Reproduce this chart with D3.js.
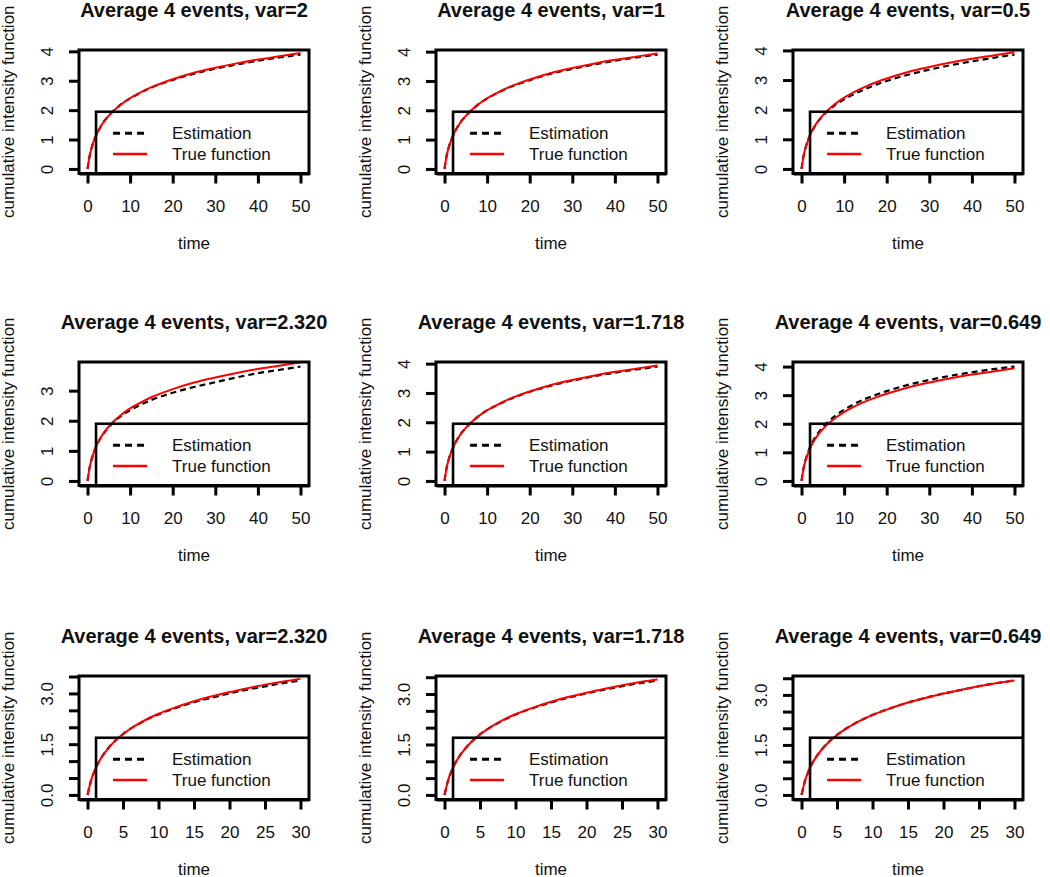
<!DOCTYPE html>
<html><head><meta charset="utf-8">
<script src="https://cdn.jsdelivr.net/npm/d3@7"></script>
<style>body{margin:0;background:#fff}svg{display:block}</style>
</head><body><svg id="c" width="1050" height="877"></svg>
<script>
const titles = [
  "Average 4 events, var=2", "Average 4 events, var=1", "Average 4 events, var=0.5",
  "Average 4 events, var=2.320", "Average 4 events, var=1.718", "Average 4 events, var=0.649",
  "Average 4 events, var=2.320", "Average 4 events, var=1.718", "Average 4 events, var=0.649"
];
const xLabel = "time";
const yLabel = "cumulative intensity function";
const legendLabels = ["Estimation", "True function"];

const timesLong  = [0,0.5,1,1.5,2,3,4,5,6,8,10,12,15,18,20,25,30,35,40,45,50];
const timesShort = [0,0.5,1,1.5,2,3,4,5,6,8,10,12,15,18,20,22,25,28,30];

const trueLong  = [0,0.45,0.74,0.96,1.14,1.42,1.64,1.81,1.96,2.21,2.41,2.57,2.78,2.95,3.05,3.27,3.44,3.59,3.72,3.83,3.94];
const trueShort = [0,0.43,0.72,0.94,1.12,1.40,1.62,1.80,1.95,2.20,2.40,2.56,2.77,2.94,3.04,3.13,3.26,3.37,3.43];

const est1 = [0,0.44,0.73,0.96,1.14,1.42,1.64,1.81,1.96,2.21,2.40,2.56,2.77,2.93,3.03,3.24,3.41,3.55,3.68,3.79,3.89];
const est2 = [0,0.45,0.74,0.96,1.14,1.42,1.64,1.81,1.96,2.21,2.40,2.56,2.77,2.93,3.03,3.25,3.41,3.56,3.69,3.80,3.90];
const est3 = [0,0.45,0.74,0.96,1.14,1.41,1.63,1.79,1.94,2.17,2.35,2.50,2.70,2.87,2.97,3.18,3.35,3.50,3.63,3.75,3.86];
const est4 = [0,0.45,0.74,0.96,1.14,1.41,1.62,1.79,1.94,2.17,2.35,2.50,2.69,2.84,2.93,3.12,3.28,3.44,3.58,3.69,3.80];
const est5 = [0,0.45,0.74,0.96,1.14,1.42,1.64,1.81,1.96,2.21,2.41,2.56,2.77,2.94,3.04,3.25,3.42,3.57,3.69,3.80,3.90];
const est6 = [0,0.46,0.76,0.99,1.18,1.47,1.70,1.88,2.03,2.29,2.49,2.66,2.87,3.04,3.14,3.36,3.53,3.68,3.80,3.91,4.00];
const est7 = [0,0.43,0.72,0.94,1.12,1.40,1.62,1.80,1.95,2.19,2.38,2.54,2.74,2.90,3.00,3.09,3.21,3.32,3.38];
const est8 = [0,0.43,0.72,0.94,1.12,1.40,1.62,1.80,1.95,2.19,2.39,2.55,2.75,2.92,3.02,3.11,3.23,3.34,3.40];
const est9 = [0,0.43,0.72,0.94,1.12,1.40,1.62,1.80,1.95,2.20,2.40,2.56,2.77,2.94,3.04,3.13,3.26,3.37,3.43];

const xTicksLong  = [0,10,20,30,40,50];
const xTicksShort = [0,5,10,15,20,25,30];
const yTicksInt   = [0,1,2,3,4];
const yTicksHalf  = [0,0.5,1,1.5,2,2.5,3,3.5];
const yLabelsHalf = [0,1.5,3];

const panels = [
  {t: timesLong,  tr: trueLong,  est: est1},
  {t: timesLong,  tr: trueLong,  est: est2},
  {t: timesLong,  tr: trueLong,  est: est3},
  {t: timesLong,  tr: trueLong,  est: est4},
  {t: timesLong,  tr: trueLong,  est: est5},
  {t: timesLong,  tr: trueLong,  est: est6},
  {t: timesShort, tr: trueShort, est: est7},
  {t: timesShort, tr: trueShort, est: est8},
  {t: timesShort, tr: trueShort, est: est9}
];

const svg = d3.select("#c");
svg.append("rect").attr("width",1050).attr("height",877).attr("fill","#fff");
const FONT = "'Liberation Sans', Arial, Helvetica, sans-serif";
const boxW = 230, boxH = 123.5;
const colLeft = [79, 436, 793];
const rowTop = [50, 362, 676];

panels.forEach((p, i) => {
  const row = Math.floor(i / 3), col = i % 3;
  const L = colLeft[col], T = rowTop[row];
  const tMax = d3.max(p.t);
  const yMin = d3.min(p.est), yMax = d3.max(p.est), yr = yMax - yMin;
  const x = d3.scaleLinear().domain([-0.04 * tMax, tMax * 1.04]).range([L, L + boxW]);
  const y = d3.scaleLinear().domain([yMin - 0.04 * yr, yMax + 0.04 * yr]).range([T + boxH, T]);
  const g = svg.append("g");
  const clipId = "clip" + i;
  g.append("clipPath").attr("id", clipId).append("rect")
    .attr("x", L).attr("y", T).attr("width", boxW).attr("height", boxH);

  const short = row === 2;
  const xt = short ? xTicksShort : xTicksLong;
  const yt = short ? yTicksHalf : yTicksInt.filter(v => v <= y.domain()[1]);

  // x axis
  const xa = g.append("g").attr("transform", `translate(0,${T + boxH})`)
    .call(d3.axisBottom(x).tickValues(xt).tickSize(10).tickSizeOuter(0).tickPadding(16));
  xa.select(".domain").attr("stroke-width", 3);
  xa.selectAll(".tick line").attr("stroke-width", 3);
  xa.selectAll("text").attr("font-family", FONT).attr("font-size", 17).attr("fill", "#111");

  // y axis
  const ya = g.append("g").attr("transform", `translate(${L},0)`)
    .call(d3.axisLeft(y).tickValues(yt).tickSize(10).tickSizeOuter(0)
      .tickFormat(d => short ? (yLabelsHalf.includes(d) ? d3.format(".1f")(d) : "") : d3.format("d")(d)));
  ya.select(".domain").remove();
  ya.selectAll(".tick line").attr("stroke-width", 3);
  ya.selectAll("text").attr("font-family", FONT).attr("font-size", 17).attr("fill", "#111")
    .attr("x", 0).attr("dy", null).attr("text-anchor", "middle")
    .attr("transform", "translate(-26,0) rotate(-90)");

  // curves (clipped)
  const cg = g.append("g").attr("clip-path", `url(#${clipId})`);
  const line = d3.line().curve(d3.curveMonotoneX);
  cg.append("path").attr("d", line(p.t.map((t, k) => [x(t), y(p.est[k])])))
    .attr("fill", "none").attr("stroke", "#000").attr("stroke-width", 2.2).attr("stroke-dasharray", "6,4");
  cg.append("path").attr("d", line(p.t.map((t, k) => [x(t), y(p.tr[k])])))
    .attr("fill", "none").attr("stroke", "#ff0000").attr("stroke-width", 2);

  // legend (anchored at 4% of time range, half of estimation max), clipped to plot region
  const lx = x(0.04 * tMax), ly = y(yMax / 2);
  cg.append("rect").attr("x", lx).attr("y", ly).attr("width", 400).attr("height", 200)
    .attr("fill", "none").attr("stroke", "#000").attr("stroke-width", 2.6);
  legendLabels.forEach((lab, k) => {
    const yy = ly + 21.5 + k * 20.8;
    cg.append("line").attr("x1", lx + 17).attr("x2", lx + 51).attr("y1", yy).attr("y2", yy)
      .attr("stroke", k === 0 ? "#000" : "#ff0000").attr("stroke-width", k === 0 ? 3 : 2.6)
      .attr("stroke-dasharray", k === 0 ? "7,5" : null);
    cg.append("text").attr("x", lx + 76).attr("y", yy + 5.5).text(lab)
      .attr("font-family", FONT).attr("font-size", 17).attr("fill", "#111");
  });

  // box
  g.append("rect").attr("x", L).attr("y", T).attr("width", boxW).attr("height", boxH)
    .attr("fill", "none").attr("stroke", "#000").attr("stroke-width", 3);

  // titles
  g.append("text").attr("x", L + boxW / 2).attr("y", T - 33.5).attr("text-anchor", "middle")
    .attr("font-family", FONT).attr("font-weight", "bold").attr("font-size", 20).attr("fill", "#111")
    .text(titles[i]);
  g.append("text").attr("x", L + boxW / 2).attr("y", T + boxH + 75).attr("text-anchor", "middle")
    .attr("font-family", FONT).attr("font-size", 17).attr("fill", "#111").text(xLabel);
  g.append("text").attr("transform", `translate(${L - 65},${T + boxH / 2}) rotate(-90)`)
    .attr("text-anchor", "middle").attr("font-family", FONT).attr("font-size", 17).attr("fill", "#111")
    .text(yLabel);
});
</script></body></html>
